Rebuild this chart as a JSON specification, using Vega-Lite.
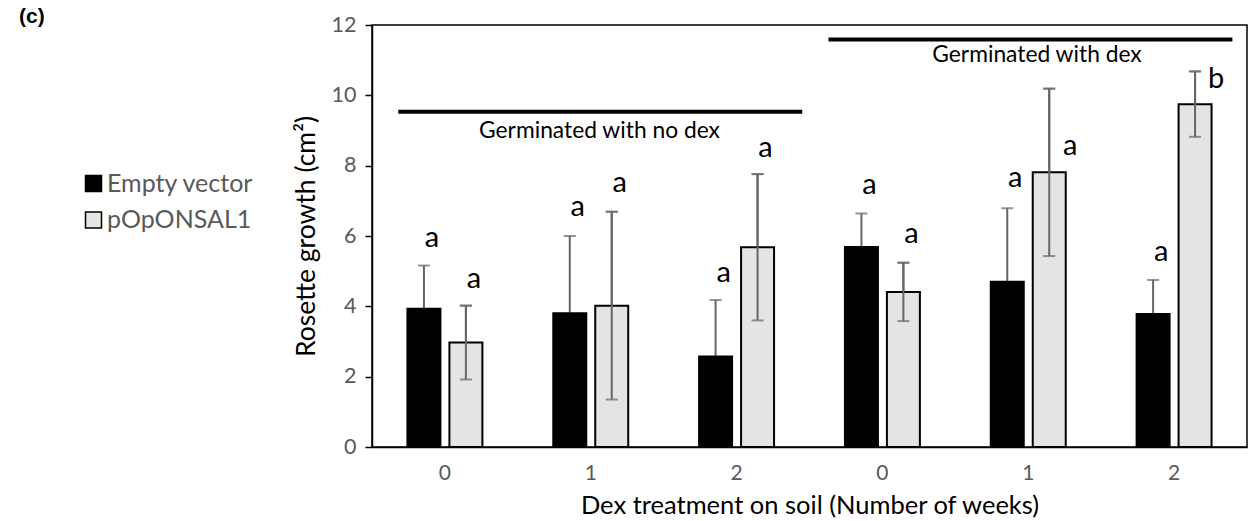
{
  "$schema": "https://vega.github.io/schema/vega-lite/v6.json",
  "width": 875,
  "height": 422,
  "autosize": {"type": "none"},
  "padding": {"left": 372, "top": 25, "right": 2, "bottom": 74},
  "background": "white",
  "config": {
    "font": "Lato",
    "view": {"stroke": "#000000", "strokeWidth": 1.5},
    "axis": {"grid": false, "domainColor": "#000000", "domainWidth": 1.5, "labelColor": "#595959", "labelFont": "Lato", "titleFont": "Lato", "titleColor": "#000000", "titleFontWeight": "normal"}
  },
  "title": {
    "text": "(c)",
    "font": "Liberation Sans",
    "fontWeight": "bold",
    "fontSize": 21,
    "color": "#000000",
    "anchor": "start",
    "frame": "group",
    "baseline": "top",
    "offset": 0,
    "dx": -353,
    "dy": 13
  },
  "datasets": {
    "growth": [
      {"slot": "n0", "line": "Empty vector", "value": 3.93, "sd": 1.23, "letter": "a", "letterY": 5.69},
      {"slot": "n0", "line": "pOpONSAL1", "value": 2.97, "sd": 1.05, "letter": "a", "letterY": 4.53},
      {"slot": "n1", "line": "Empty vector", "value": 3.80, "sd": 2.20, "letter": "a", "letterY": 6.57},
      {"slot": "n1", "line": "pOpONSAL1", "value": 4.02, "sd": 2.67, "letter": "a", "letterY": 7.25},
      {"slot": "n2", "line": "Empty vector", "value": 2.57, "sd": 1.61, "letter": "a", "letterY": 4.70},
      {"slot": "n2", "line": "pOpONSAL1", "value": 5.68, "sd": 2.08, "letter": "a", "letterY": 8.26},
      {"slot": "d0", "line": "Empty vector", "value": 5.69, "sd": 0.95, "letter": "a", "letterY": 7.20},
      {"slot": "d0", "line": "pOpONSAL1", "value": 4.41, "sd": 0.83, "letter": "a", "letterY": 5.80},
      {"slot": "d1", "line": "Empty vector", "value": 4.70, "sd": 2.09, "letter": "a", "letterY": 7.39},
      {"slot": "d1", "line": "pOpONSAL1", "value": 7.81, "sd": 2.38, "letter": "a", "letterY": 8.30},
      {"slot": "d2", "line": "Empty vector", "value": 3.78, "sd": 0.97, "letter": "a", "letterY": 5.29},
      {"slot": "d2", "line": "pOpONSAL1", "value": 9.75, "sd": 0.93, "letter": "b", "letterY": 10.20}
    ],
    "groups": [
      {"label": "Germinated with no dex", "from": 0.18, "to": 2.95, "at": 1.56, "lineY": 9.53, "textY": 8.78},
      {"label": "Germinated with dex", "from": 3.13, "to": 5.9, "at": 4.56, "lineY": 11.59, "textY": 10.95}
    ]
  },
  "resolve": {"scale": {"x": "independent"}},
  "layer": [
    {
      "data": {"name": "growth"},
      "encoding": {
        "x": {
          "field": "slot",
          "type": "nominal",
          "scale": {"domain": ["n0", "n1", "n2", "d0", "d1", "d2"], "paddingInner": 0.486, "paddingOuter": 0.243},
          "axis": {
            "labelExpr": "substring(datum.value, 1)",
            "labelAngle": 0,
            "labelFontSize": 21,
            "labelPadding": 15,
            "ticks": false,
            "title": "Dex treatment on soil (Number of weeks)",
            "titleFontSize": 25.5,
            "titlePadding": 10
          }
        },
        "xOffset": {
          "field": "line",
          "type": "nominal",
          "scale": {"domain": ["Empty vector", "pOpONSAL1"], "paddingInner": 0.214, "paddingOuter": 0}
        }
      },
      "layer": [
        {
          "mark": {"type": "rule", "color": "#666666", "strokeWidth": 2},
          "encoding": {
            "y": {"field": "lo", "type": "quantitative", "scale": {"domain": [0, 12]}},
            "y2": {"field": "hi"}
          },
          "transform": [{"calculate": "datum.value - datum.sd", "as": "lo"}, {"calculate": "datum.value + datum.sd", "as": "hi"}]
        },
        {
          "mark": {"type": "tick", "color": "#666666", "thickness": 2, "size": 12},
          "encoding": {"y": {"field": "hi", "type": "quantitative", "scale": {"domain": [0, 12]}}},
          "transform": [{"calculate": "datum.value + datum.sd", "as": "hi"}]
        },
        {
          "mark": {"type": "bar", "stroke": "#000000", "strokeWidth": 2},
          "encoding": {
            "y": {
              "field": "value",
              "type": "quantitative",
              "scale": {"domain": [0, 12], "nice": false},
              "axis": {
                "values": [0, 2, 4, 6, 8, 10, 12],
                "tickColor": "#000000",
                "tickWidth": 1.5,
                "tickSize": 7,
                "labelFontSize": 21.5,
                "labelPadding": 9,
                "title": "Rosette growth (cm²)",
                "titleFontSize": 26.5,
                "titlePadding": 11
              }
            },
            "fill": {
              "field": "line",
              "type": "nominal",
              "scale": {"domain": ["Empty vector", "pOpONSAL1"], "range": ["#000000", "#e4e4e4"]},
              "legend": {
                "title": null,
                "orient": "none",
                "legendX": -291,
                "legendY": 146,
                "padding": 0,
                "symbolType": "square",
                "symbolSize": 256,
                "symbolStrokeColor": "#000000",
                "symbolStrokeWidth": 1.5,
                "labelFontSize": 25,
                "labelColor": "#595959",
                "labelOffset": 1,
                "rowPadding": 10.5
              }
            }
          }
        },
        {
          "transform": [{"filter": "datum.line == 'pOpONSAL1'"}, {"calculate": "datum.value - datum.sd", "as": "lo"}, {"calculate": "datum.value + datum.sd", "as": "hi"}],
          "layer": [
            {
              "mark": {"type": "rule", "color": "#666666", "strokeWidth": 2},
              "encoding": {
                "y": {"field": "lo", "type": "quantitative", "scale": {"domain": [0, 12]}},
                "y2": {"field": "hi"}
              }
            },
            {
              "mark": {"type": "tick", "color": "#666666", "thickness": 2, "size": 12},
              "encoding": {"y": {"field": "lo", "type": "quantitative", "scale": {"domain": [0, 12]}}}
            },
            {
              "mark": {"type": "tick", "color": "#666666", "thickness": 2, "size": 12},
              "encoding": {"y": {"field": "hi", "type": "quantitative", "scale": {"domain": [0, 12]}}}
            }
          ]
        },
        {
          "transform": [{"filter": "!(datum.letter == 'b' || (datum.slot == 'd1' && datum.line == 'pOpONSAL1'))"}],
          "mark": {"type": "text", "fontSize": 29, "color": "#000000", "baseline": "alphabetic", "align": "center", "dx": 8},
          "encoding": {
            "y": {"field": "letterY", "type": "quantitative", "scale": {"domain": [0, 12]}},
            "text": {"field": "letter"}
          }
        },
        {
          "transform": [{"filter": "datum.letter == 'b' || (datum.slot == 'd1' && datum.line == 'pOpONSAL1')"}],
          "mark": {"type": "text", "fontSize": 29, "color": "#000000", "baseline": "alphabetic", "align": "center", "dx": 21},
          "encoding": {
            "y": {"field": "letterY", "type": "quantitative", "scale": {"domain": [0, 12]}},
            "text": {"field": "letter"}
          }
        }
      ]
    },
    {
      "data": {"name": "groups"},
      "layer": [
        {
          "mark": {"type": "rule", "color": "#000000", "strokeWidth": 4},
          "encoding": {
            "x": {"field": "from", "type": "quantitative", "scale": {"domain": [0, 6], "nice": false, "zero": false}, "axis": null},
            "x2": {"field": "to"},
            "y": {"field": "lineY", "type": "quantitative", "scale": {"domain": [0, 12]}}
          }
        },
        {
          "mark": {"type": "text", "fontSize": 22.8, "color": "#000000", "baseline": "alphabetic", "align": "center"},
          "encoding": {
            "x": {"field": "at", "type": "quantitative", "scale": {"domain": [0, 6], "nice": false, "zero": false}, "axis": null},
            "y": {"field": "textY", "type": "quantitative", "scale": {"domain": [0, 12]}},
            "text": {"field": "label"}
          }
        }
      ]
    }
  ]
}
